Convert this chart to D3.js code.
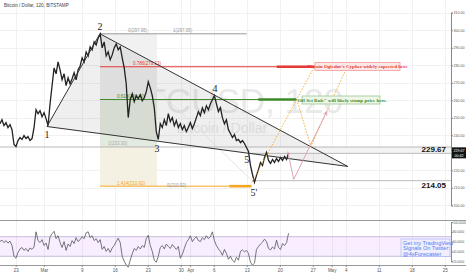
<!DOCTYPE html>
<html>
<head>
<meta charset="utf-8">
<script src="https://cdn.jsdelivr.net/npm/d3@7"></script>
<style>
  body { margin: 0; background: #fff; }
  svg { display: block; font-family: "Liberation Sans", Arial, sans-serif; }
</style>
</head>
<body>
<div class="chart"></div>
<script>
// Set H/W
const svgWidth = 466;
const svgHeight = 275;
const paneRight = 451;

// 2h BTCUSD closes, sampled roughly every 10h from Feb 19 2015
const startTime = Date.UTC(2015, 1, 19, 16);
const stepHours = 10.2;
const closes = [
  246.6, 248.9, 245.5, 247.2, 244.4, 246.1, 243.2, 234.7, 233.6, 237.0,
  238.7, 237.6, 239.8, 238.1, 239.2, 237.0, 238.1, 244.4, 254.6, 252.3,
  254.0, 250.6, 252.9, 249.5, 245.5, 258.0, 268.3, 278.5, 275.1, 281.9,
  277.4, 271.7, 275.1, 268.3, 272.8, 269.4, 272.3, 275.7, 271.7, 277.4,
  279.6, 284.2, 281.9, 287.6, 285.3, 290.5, 288.8, 293.3, 291.6, 295.6,
  297.9, 289.9, 293.3, 285.3, 287.6, 283.1, 285.9, 289.9, 292.2, 288.8,
  290.5, 284.2, 278.5, 269.4, 250.1, 260.3, 263.7, 259.2, 262.6, 260.9,
  263.1, 259.7, 261.4, 264.8, 270.5, 267.1, 262.6, 255.7, 242.1, 237.6,
  246.6, 244.4, 248.9, 245.5, 252.3, 247.8, 250.1, 245.5, 248.4, 244.4,
  246.6, 243.2, 245.5, 242.1, 244.4, 247.2, 243.8, 246.6, 250.1, 253.5,
  251.2, 255.7, 252.9, 256.9, 254.6, 258.0, 260.3, 262.6, 258.0, 253.5,
  255.7, 250.1, 246.6, 248.9, 243.2, 241.0, 238.7, 240.4, 237.0, 237.6,
  235.8, 237.0, 235.3, 233.0, 230.7, 222.8, 217.6, 213.1, 217.1, 220.5,
  224.5, 222.8, 227.3, 230.2, 225.6, 223.9, 226.2, 224.5, 226.7, 225.0,
  227.3, 225.6, 227.9, 226.2, 229.67
];

const rsiValues = [
  60, 63, 58, 62, 57, 61, 52, 30, 26, 38,
  45, 48, 42, 46, 40, 47, 44, 49, 80, 62,
  58, 64, 52, 57, 44, 70, 76, 81, 66, 72,
  58, 48, 60, 42, 55, 50, 62, 56, 68, 60,
  64, 70, 66, 78, 80, 68, 72, 62, 66, 58,
  64, 44, 50, 40, 46, 38, 47, 52, 60, 67,
  58, 30, 20, 12, 8, 22, 35, 46, 42, 50,
  45, 52, 48, 66, 73, 52, 40, 22, 18, 30,
  48, 52, 45, 55, 50, 46, 54, 49, 44, 50,
  26, 34, 46, 58, 64, 72, 60, 66, 70, 62,
  60, 68, 64, 72, 66, 70, 80, 62, 52, 45,
  40, 32, 44, 36, 24, 30, 22, 18, 28, 22,
  40, 43, 39, 42, 36, 18, 12, 16, 44, 50,
  55, 59, 65, 60, 46, 43, 49, 45, 63, 48,
  44, 56, 52, 58, 77
];

const priceTicks = [310, 300, 290, 280, 270, 260, 250, 240, 220, 210, 200];
const rsiTicks = [100, 80, 60, 40, 20];
const dateTicks = [
  ["2015-02-23", "23"], ["2015-03-01", "Mar"], ["2015-03-09", "9"], ["2015-03-16", "16"],
  ["2015-03-23", "23"], ["2015-03-30", "30"], ["2015-04-01", "Apr"], ["2015-04-06", "6"],
  ["2015-04-13", "13"], ["2015-04-20", "20"], ["2015-04-27", "27"], ["2015-05-01", "May"],
  ["2015-05-04", "4"], ["2015-05-11", "11"], ["2015-05-18", "18"], ["2015-05-25", "25"]
];

// Elliott wave pivots [time, price]
const waveNames = ["1", "2", "3", "4", "5", "5'"];
const wavePoints = [
  ["2015-03-01T15:00Z", 245.0], ["2015-03-12T21:00Z", 297.95], ["2015-03-24T23:00Z", 236.6],
  ["2015-04-06T06:00Z", 262.6], ["2015-04-13T00:00Z", 230.7], ["2015-04-14T12:00Z", 213.1]
];
const wedgeApex = ["2015-05-04T10:00Z", 222.2];

// fib levels
const fibPrices = [297.95, 279.13, 260.4, 233.3, 210.92];
const fibLabels = ["0(297.95)", "0.786(279.13)", "0.618(260.40)", "1(233.30)", "1.414(210.92)"];
const fibEnds = ["2015-04-13T00:00Z", "2015-04-27T10:00Z", "2015-04-23T12:00Z", null, "2015-04-14T00:00Z"];

// projections
const orangeLeg1 = [["2015-04-14T03:00Z", 213.1], ["2015-04-27T10:00Z", 279.6]];
const orangeLeg2 = [["2015-04-23T15:00Z", 260.3], ["2015-04-26T14:00Z", 233.6], ["2015-05-03T19:00Z", 276.2]];
const pinkPath = [["2015-04-21T17:00Z", 230.7], ["2015-04-22T23:00Z", 214.8], ["2015-04-29T23:00Z", 253.5]];

const lastPrice = 229.67;
const supportPrice = 214.05;

const svg = d3.select(".chart")
  .append("svg")
  .attr("width", svgWidth)
  .attr("height", svgHeight);

svg.append("rect").attr("width", svgWidth).attr("height", svgHeight).attr("fill", "#fff");

// scales
const x = d3.scaleUtc()
  .domain([new Date("2015-03-09T00:00Z"), new Date("2015-05-25T00:00Z")])
  .range([81.7, 444.8]);
const y = d3.scaleLinear().domain([200, 310]).range([205.3, 12.7]);
const rsiY = d3.scaleLinear().domain([20, 100]).range([261.2, 222]);

const t = i => new Date(startTime + i * stepHours * 3600e3);
const px = p => x(new Date(p[0]));
const py = p => y(p[1]);

// grid
const grid = svg.append("g").attr("stroke", "#f1f1f1").attr("stroke-width", 1);
dateTicks.forEach(d => {
  const xx = Math.round(x(new Date(d[0]))) + 0.5;
  grid.append("line").attr("x1", xx).attr("x2", xx).attr("y1", 0).attr("y2", 265);
});
priceTicks.forEach(p => {
  const yy = Math.round(y(p)) + 0.5;
  grid.append("line").attr("x1", 0).attr("x2", paneRight).attr("y1", yy).attr("y2", yy);
});

// watermark
svg.append("text").attr("x", 232).attr("y", 113).attr("text-anchor", "middle")
  .attr("font-size", 35).attr("fill", "#e9e9e9").text("BTCUSD, 120");
svg.append("text").attr("x", 222).attr("y", 133).attr("text-anchor", "middle")
  .attr("font-size", 14).attr("fill", "#e9e9e9").text("Bitcoin / Dollar");

// fib zone fills
const zoneX0 = x(new Date(wavePoints[1][0]));
const zoneX1 = x(new Date(wavePoints[2][0]));
const zones = [[0, 1, "#f1f1f1"], [1, 2, "#ececec"], [2, 3, "#e3eadf"], [3, 4, "#f4f0e2"]];
zones.forEach(z => {
  svg.append("rect")
    .attr("x", zoneX0).attr("width", zoneX1 - zoneX0)
    .attr("y", y(fibPrices[z[0]])).attr("height", y(fibPrices[z[1]]) - y(fibPrices[z[0]]))
    .attr("fill", z[2]);
});

// wedge fill
const w1 = wavePoints[0], w2 = wavePoints[1];
svg.append("path")
  .attr("d", d3.line()([[px(w1), py(w1)], [px(w2), py(w2)], [px(wedgeApex), py(wedgeApex)]]) + "Z")
  .attr("fill", "rgba(120,120,120,0.12)");

// faint trend line 2 -> 5'
svg.append("line")
  .attr("x1", px(wavePoints[1])).attr("y1", py(wavePoints[1]))
  .attr("x2", px(wavePoints[5])).attr("y2", py(wavePoints[5]))
  .attr("stroke", "#ddd").attr("stroke-width", 0.8);

// horizontal levels 233 / 229.67 / 214.05
svg.append("rect").attr("x", 250).attr("width", paneRight - 250)
  .attr("y", y(fibPrices[3])).attr("height", y(lastPrice) - y(fibPrices[3]))
  .attr("fill", "#f3f3f3");
svg.append("line").attr("x1", 0).attr("x2", paneRight)
  .attr("y1", y(fibPrices[3])).attr("y2", y(fibPrices[3])).attr("stroke", "#aaa").attr("stroke-width", 0.8);
svg.append("line").attr("x1", 250).attr("x2", paneRight)
  .attr("y1", y(lastPrice)).attr("y2", y(lastPrice)).attr("stroke", "#aaa").attr("stroke-width", 0.8);
svg.append("line").attr("x1", x(new Date(orangeLeg1[0][0]))).attr("x2", paneRight)
  .attr("y1", y(supportPrice)).attr("y2", y(supportPrice)).attr("stroke", "#aaa").attr("stroke-width", 0.8);

// fib lines
const fibColors = ["#9a9a9a", "#e53935", "#3d8a2a", "#aaa", "#f5a623"];
fibPrices.forEach((p, i) => {
  if (i === 3) return;
  const xEnd = x(new Date(fibEnds[i]));
  svg.append("line").attr("x1", zoneX0).attr("x2", xEnd)
    .attr("y1", y(p)).attr("y2", y(p)).attr("stroke", fibColors[i]).attr("stroke-width", 1);
  if (i > 0) {
    svg.append("line").attr("x1", xEnd - (i === 4 ? 22 : 38)).attr("x2", xEnd)
      .attr("y1", y(p)).attr("y2", y(p)).attr("stroke", fibColors[i]).attr("stroke-width", 2.6);
  }
});
const fibLabelX = [128, 133, 117, 108, 117];
fibLabels.forEach((l, i) => {
  svg.append("text").attr("x", fibLabelX[i]).attr("y", y(fibPrices[i]) - 1.5)
    .attr("font-size", 4.5).attr("fill", fibColors[i]).text(l);
});
svg.append("text").attr("x", 173).attr("y", y(fibPrices[0]) - 1.5)
  .attr("font-size", 4.5).attr("fill", fibColors[0]).text("1(297.95)");
svg.append("text").attr("x", 167).attr("y", y(fibPrices[4]) + 0.5)
  .attr("font-size", 4.5).attr("fill", "#999").text("0(210.92)");

// price line
const priceLine = d3.line().x((d, i) => x(t(i))).y(d => y(d));
svg.append("path").datum(closes)
  .attr("d", priceLine).attr("fill", "none").attr("stroke", "#222").attr("stroke-width", 1.3);

// wedge lines
const wedge = [[w1, w2], [w2, wedgeApex], [w1, wedgeApex]];
wedge.forEach(s => {
  svg.append("line").attr("x1", px(s[0])).attr("y1", py(s[0]))
    .attr("x2", px(s[1])).attr("y2", py(s[1]))
    .attr("stroke", "#333").attr("stroke-width", 1);
});

// projections
const projLine = d3.line().x(px).y(py);
[orangeLeg1, orangeLeg2].forEach(leg => {
  svg.append("path").attr("d", projLine(leg)).attr("fill", "none")
    .attr("stroke", "#f5a623").attr("stroke-width", 0.9).attr("stroke-dasharray", "1.5,1.5");
});
svg.append("path").attr("d", projLine(pinkPath)).attr("fill", "none")
  .attr("stroke", "#e0a3b8").attr("stroke-width", 1);
const pEnd = pinkPath[2], pPrev = pinkPath[1];
const ang = Math.atan2(py(pEnd) - py(pPrev), px(pEnd) - px(pPrev));
svg.append("path")
  .attr("d", d3.line()([
    [px(pEnd) - 4 * Math.cos(ang - 0.45), py(pEnd) - 4 * Math.sin(ang - 0.45)],
    [px(pEnd), py(pEnd)],
    [px(pEnd) - 4 * Math.cos(ang + 0.45), py(pEnd) - 4 * Math.sin(ang + 0.45)]
  ]))
  .attr("fill", "none").attr("stroke", "#e0a3b8").attr("stroke-width", 1);

// wave labels
const waveDy = [11, -4, 11, -4, 11, 14];
waveNames.forEach((n, i) => {
  svg.append("text").attr("x", px(wavePoints[i])).attr("y", py(wavePoints[i]) + waveDy[i])
    .attr("text-anchor", "middle").attr("font-family", "Liberation Serif, serif")
    .attr("font-size", 10).attr("fill", "#222").text(n);
});

// callouts
function callout(x0, y0, w, h, txt, fill, stroke, color) {
  svg.append("rect").attr("x", x0).attr("y", y0).attr("width", w).attr("height", h)
    .attr("fill", fill).attr("stroke", stroke).attr("stroke-width", 0.8);
  svg.append("text").attr("x", x0 + w / 2).attr("y", y0 + h / 2 + 1.8).attr("text-anchor", "middle")
    .attr("font-family", "Liberation Serif, serif").attr("font-weight", "bold")
    .attr("font-size", 5).attr("fill", color).text(txt);
}
callout(315, 62.5, 85, 8, "Bitcoin Ogledor's Cypher widely expected here", "#fde8e8", "#f19a9a", "#e53935");
callout(302, 96, 78, 8, "\"Off Set Rule\" will likely stomp price here.", "#eef6ea", "#9cc98e", "#3d8a2a");

// right labels on price lines
svg.append("text").attr("x", 446).attr("y", y(lastPrice) - 1).attr("text-anchor", "end")
  .attr("font-size", 8).attr("font-weight", "bold").attr("fill", "#111").text("229.67");
svg.append("text").attr("x", 446).attr("y", y(supportPrice) + 7).attr("text-anchor", "end")
  .attr("font-size", 8).attr("font-weight", "bold").attr("fill", "#111").text("214.05");

// RSI pane
svg.append("line").attr("x1", 0).attr("x2", svgWidth).attr("y1", 220.5).attr("y2", 220.5)
  .attr("stroke", "#999").attr("stroke-width", 1);
svg.append("rect").attr("x", 0).attr("width", paneRight)
  .attr("y", rsiY(70)).attr("height", rsiY(30) - rsiY(70))
  .attr("fill", "rgba(153,21,255,0.07)");
[70, 30].forEach(v => {
  svg.append("line").attr("x1", 0).attr("x2", paneRight).attr("y1", rsiY(v)).attr("y2", rsiY(v))
    .attr("stroke", "#b9aed0").attr("stroke-width", 0.8);
});
const rsiLine = d3.line().x((d, i) => x(t(i))).y(d => rsiY(d));
svg.append("path").datum(rsiValues)
  .attr("d", rsiLine).attr("fill", "none").attr("stroke", "#555").attr("stroke-width", 0.8);

// signal box
svg.append("rect").attr("x", 401).attr("y", 239).attr("width", 49).attr("height", 17.5)
  .attr("fill", "#f1eefc").attr("stroke", "#9eb3f5").attr("stroke-width", 0.6);
["Get my TradingView", "Signals On Twitter:", "@4xForecaster"].forEach((s, i) => {
  svg.append("text").attr("x", 403).attr("y", 244.5 + i * 5.6)
    .attr("font-size", 5.6).attr("fill", "#4f7cf7").text(s);
});

// price axis
const rightAxis = d3.axisRight(y).tickValues(priceTicks).tickFormat(d3.format(".2f")).tickSize(2);
const pa = svg.append("g").attr("transform", `translate(${paneRight},0)`).call(rightAxis);
const rsiAxis = d3.axisRight(rsiY).tickValues(rsiTicks).tickFormat(d3.format(".4f")).tickSize(2);
const ra = svg.append("g").attr("transform", `translate(${paneRight},0)`).call(rsiAxis);
[pa, ra].forEach(g => {
  g.select(".domain").attr("stroke", "#888");
  g.selectAll(".tick line").attr("stroke", "#888");
  g.selectAll(".tick text").attr("font-size", 3.6).attr("fill", "#555").attr("x", 2.5);
});
ra.selectAll(".tick text").attr("font-size", 3.1).attr("x", 2);

// last price tag
svg.append("rect").attr("x", paneRight + 1).attr("y", y(lastPrice) - 6).attr("width", 14).attr("height", 11)
  .attr("fill", "#111");
["229.67", "00:42"].forEach((s, i) => {
  svg.append("text").attr("x", paneRight + 8).attr("y", y(lastPrice) - 1.5 + i * 5)
    .attr("text-anchor", "middle").attr("font-size", 3.6).attr("fill", "#fff").text(s);
});

// time axis
svg.append("line").attr("x1", 0).attr("x2", svgWidth).attr("y1", 265.5).attr("y2", 265.5)
  .attr("stroke", "#999");
const bottomAxis = d3.axisBottom(x)
  .tickValues(dateTicks.map(d => new Date(d[0] + "T00:00Z")))
  .tickFormat((d, i) => dateTicks[i][1])
  .tickSize(2);
const xa = svg.append("g").attr("transform", "translate(0,265)").call(bottomAxis);
xa.select(".domain").remove();
xa.selectAll(".tick line").attr("stroke", "#888");
xa.selectAll(".tick text").attr("font-size", 4.5).attr("fill", "#555").attr("y", 4);

// title
svg.append("text").attr("x", 4).attr("y", 7).attr("font-size", 4.6).attr("fill", "#444")
  .text("Bitcoin / Dollar, 120, BITSTAMP");
</script>
</body>
</html>
